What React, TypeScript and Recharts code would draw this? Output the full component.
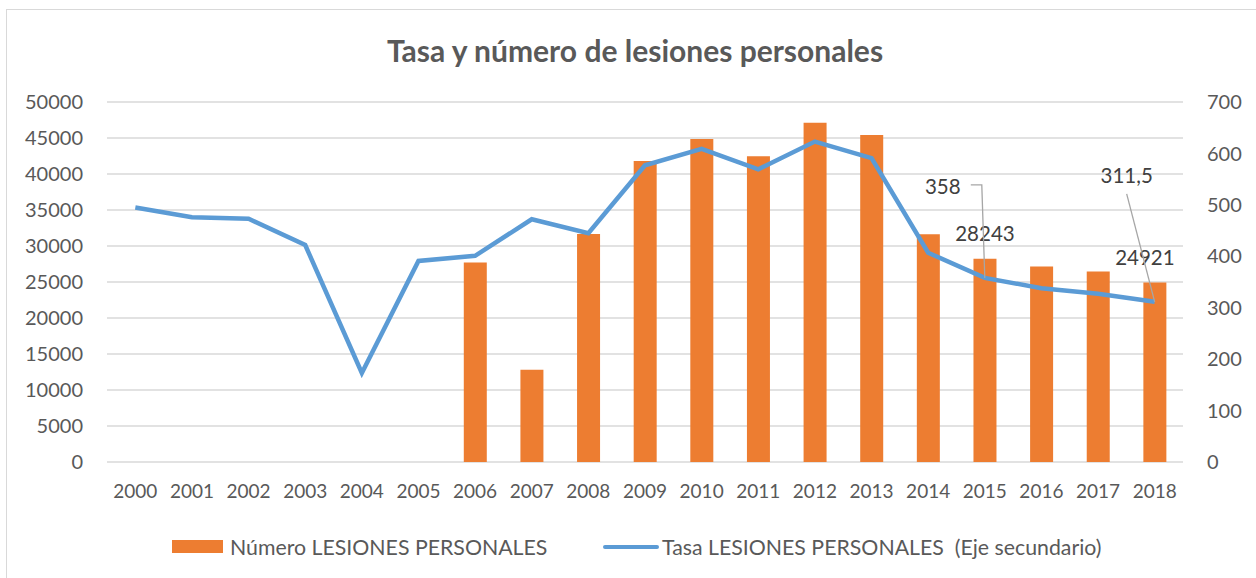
import React from 'react'
import {
  ComposedChart,
  Bar,
  Line,
  XAxis,
  YAxis,
  CartesianGrid,
  LabelList,
} from 'recharts'

const years = [
  '2000', '2001', '2002', '2003', '2004', '2005', '2006', '2007', '2008', '2009',
  '2010', '2011', '2012', '2013', '2014', '2015', '2016', '2017', '2018',
]

// Número de casos (no data before 2006)
const numero: (number | null)[] = [
  null, null, null, null, null, null, 27700, 12810, 31680, 41810,
  44870, 42460, 47130, 45420, 31640, 28243, 27150, 26450, 24921,
]

// Tasa por 100.000 habitantes (eje secundario)
const tasa = [
  495, 476, 473, 422, 173, 391, 401, 472, 445, 577,
  609, 569, 623, 591, 407, 358, 338, 327, 311.5,
]

const leftTicks = [0, 5000, 10000, 15000, 20000, 25000, 30000, 35000, 40000, 45000, 50000]
const rightTicks = [0, 100, 200, 300, 400, 500, 600, 700]

// only these years carry a data label
const labelledYears = ['2015', '2018']

const data = years.map((y, i) => {
  const lab = labelledYears.includes(y)
  return {
    year: y,
    numero: numero[i],
    tasa: tasa[i],
    numeroLabel: lab ? numero[i] : undefined,
    tasaLabel: lab ? tasa[i] : undefined,
  }
})

const FONT = 'Lato, "Open Sans", sans-serif'
const TEXT = '#595959'
const LABEL = '#404040'
const ORANGE = '#ED7D31'
const BLUE = '#5B9BD5'
const LEADER = '#a6a6a6'

const fmt = (v: number) => String(v).replace('.', ',')

function BarValueLabel(props: any) {
  const { x, y, width, value } = props
  if (value == null || value === '') return null
  const shift = Number(value) === numero[numero.length - 1] ? -10 : 0
  return (
    <text x={x + width / 2 + shift} y={y - 25} dy="0.35em" textAnchor="middle"
      fill={LABEL} fontSize={20.5} fontFamily={FONT}>
      {value}
    </text>
  )
}

function LineValueLabel(props: any) {
  const { x, y, value } = props
  if (value == null || value === '') return null
  if (Number(value) === tasa[tasa.length - 1]) {
    // label up-left of the point, straight leader back to it
    return (
      <g>
        <line x1={x - 28} y1={y - 108} x2={x} y2={y} stroke={LEADER} strokeWidth={1.3} />
        <text x={x - 28} y={y - 126} dy="0.35em" textAnchor="middle"
          fill={LABEL} fontSize={20.5} fontFamily={FONT}>
          {fmt(Number(value))}
        </text>
      </g>
    )
  }
  return (
    <g>
      <polyline points={`${x - 14},${y - 93} ${x - 3},${y - 93} ${x},${y}`}
        fill="none" stroke={LEADER} strokeWidth={1.3} />
      <text x={x - 42} y={y - 91} dy="0.35em" textAnchor="middle"
        fill={LABEL} fontSize={20.5} fontFamily={FONT}>
        {fmt(Number(value))}
      </text>
    </g>
  )
}

function ChartLegend() {
  const itemText: React.CSSProperties = {
    fontSize: 21.3, color: TEXT, fontFamily: FONT, lineHeight: '24px', whiteSpace: 'pre',
  }
  return (
    <div style={{ position: 'absolute', left: 0, top: 532, height: 30, width: 1256 }}>
      <div style={{ position: 'absolute', left: 172, top: 8, width: 51, height: 13, background: ORANGE }} />
      <div style={{ ...itemText, position: 'absolute', left: 230, top: 3 }}>Número LESIONES PERSONALES</div>
      <div style={{ position: 'absolute', left: 603, top: 13, width: 56, height: 4, borderRadius: 2, background: BLUE }} />
      <div style={{ ...itemText, position: 'absolute', left: 662, top: 3 }}>
        Tasa LESIONES PERSONALES  (Eje secundario)
      </div>
    </div>
  )
}

export default function App() {
  return (
    <div style={{ position: 'absolute', left: 0, top: 0, width: 1256, height: 578, overflow: 'hidden', background: '#fff' }}>
      <div style={{
        position: 'absolute', left: 6, top: 9, width: 1270, height: 600,
        border: '1.5px solid #d9d9d9', boxSizing: 'border-box',
      }} />
      <div style={{
        position: 'absolute', left: 0, top: 32, width: 1270, textAlign: 'center',
        fontFamily: FONT, fontWeight: 700, fontSize: 30, lineHeight: '36px', color: TEXT,
      }}>
        Tasa y número de lesiones personales
      </div>
      <div style={{ position: 'absolute', left: 0, top: 0 }}>
        <ComposedChart width={1256} height={578} data={data}
          margin={{ top: 102, right: 0, bottom: 76, left: 0 }}>
          <CartesianGrid yAxisId="left" vertical={false} stroke="#d9d9d9" strokeWidth={1.4} />
          <XAxis dataKey="year" axisLine={false} tickLine={false} tickSize={0} tickMargin={23}
            interval={0} height={40}
            tick={{ fill: TEXT, fontSize: 19, fontFamily: FONT }} />
          <YAxis yAxisId="left" domain={[0, 50000]} ticks={leftTicks} width={107}
            axisLine={false} tickLine={false} tickSize={0} tickMargin={24}
            tick={{ fill: TEXT, fontSize: 20, fontFamily: FONT }} />
          <YAxis yAxisId="right" orientation="right" domain={[0, 700]} ticks={rightTicks} width={73}
            axisLine={false} tickLine={false} tickSize={0} tickMargin={24}
            tick={{ fill: TEXT, fontSize: 20, fontFamily: FONT, textAnchor: 'start' }} />
          <Bar yAxisId="left" dataKey="numero" name="Número LESIONES PERSONALES"
            fill={ORANGE} barSize={23} isAnimationActive={false}>
            <LabelList dataKey="numeroLabel" content={<BarValueLabel />} />
          </Bar>
          <Line yAxisId="right" dataKey="tasa" name="Tasa LESIONES PERSONALES  (Eje secundario)"
            type="linear" stroke={BLUE} strokeWidth={4.5} dot={false} activeDot={false}
            isAnimationActive={false}>
            <LabelList dataKey="tasaLabel" content={<LineValueLabel />} />
          </Line>
        </ComposedChart>
      </div>
      <ChartLegend />
    </div>
  )
}
